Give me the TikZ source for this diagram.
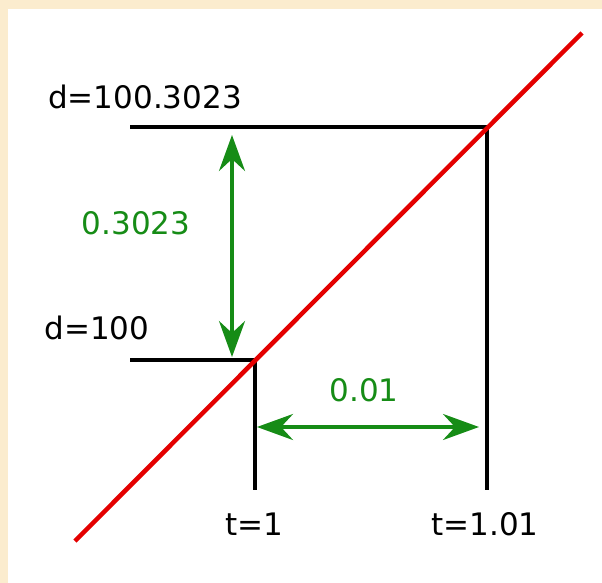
\documentclass[tikz,border=0pt]{standalone}
\usepackage{fontspec}
\setmainfont{DejaVu Sans}
\usetikzlibrary{arrows.meta}
\definecolor{paper}{RGB}{251,236,206}
\definecolor{dimgreen}{RGB}{22,140,22}
\definecolor{linered}{RGB}{228,0,0}

\begin{document}
\begin{tikzpicture}[x=1pt, y=-1pt,
    every node/.style={font=\fontsize{31}{37}\selectfont, inner sep=0pt},
    level/.style={draw=black, line width=4.5pt},
    dim/.style={draw=dimgreen, line width=3.5pt,
      {Stealth[length=36pt, width=26pt, inset=12pt]}-{Stealth[length=36pt, width=26pt, inset=12pt]}}]
  % paper and margins
  \fill[paper] (0,0) rectangle (602,583);
  \fill[white] (8,9) rectangle (602,583);
  \useasboundingbox (0,0) rectangle (602,583);
  % corner points on the graph
  \coordinate (lo) at (255,360);
  \coordinate (hi) at (487,127);
  \coordinate (loL) at (130,360);
  \coordinate (hiL) at (130,127);
  \coordinate (loB) at (255,490);
  \coordinate (hiB) at (487,490);
  \coordinate (redS) at (75,541);
  \coordinate (redE) at (582,33);
  % levels
  \draw[level] (hiL) -- (hi) -- (hiB);
  \draw[level] (loL) -- (lo) -- (loB);
  % the graph
  \draw[linered, line width=4.5pt] (redS) -- (redE);
  % differences
  \coordinate (dTop) at (232,135);
  \coordinate (dBot) at (232,357);
  \coordinate (tL) at (257,427);
  \coordinate (tR) at (479,427);
  \draw[dim] (dTop) -- (dBot);
  \draw[dim] (tL) -- (tR);
  % labels
  \node (dhi) at (145,97) {d=100.3023};
  \node (dlo) at (97,328) {d=100};
  \node[text=dimgreen] (dd) at (136,223) {0.3023};
  \node[text=dimgreen] (dt) at (364,390) {0.01};
  \node (tlo) at (254,524) {t=1};
  \node (thi) at (485,524) {t=1.01};
\end{tikzpicture}
\end{document}
